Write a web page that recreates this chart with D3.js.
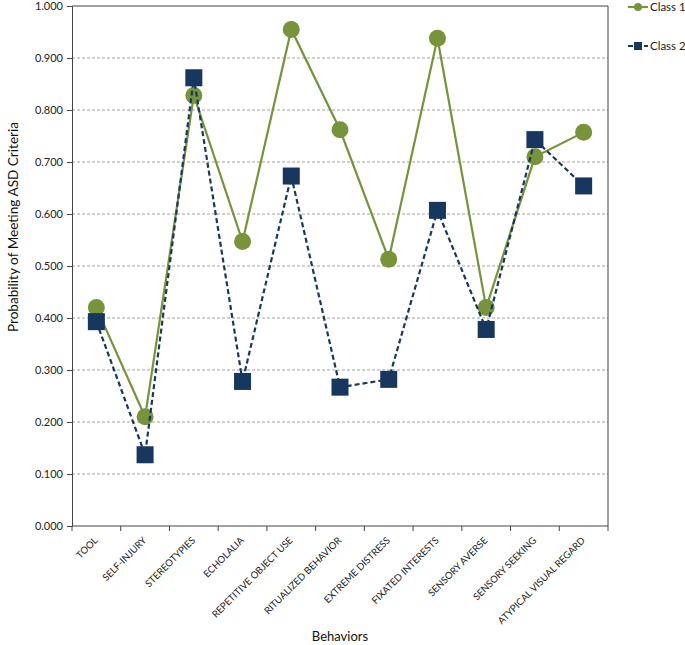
<!DOCTYPE html>
<html><head><meta charset="utf-8">
<script src="https://cdn.jsdelivr.net/npm/d3@7"></script>
<style>body{margin:0;background:#fff;} svg{display:block;font-family:Lato,"Open Sans",sans-serif;}</style>
</head><body>
<svg id="c" width="685" height="645"></svg>
<script>
const categories = ["TOOL","SELF-INJURY","STEREOTYPIES","ECHOLALIA","REPETITIVE OBJECT USE","RITUALIZED BEHAVIOR","EXTREME DISTRESS","FIXATED INTERESTS","SENSORY AVERSE","SENSORY SEEKING","ATYPICAL VISUAL REGARD"];
const class1 = [0.420,0.210,0.828,0.547,0.955,0.762,0.513,0.938,0.420,0.710,0.757];
const class2 = [0.393,0.137,0.862,0.278,0.673,0.267,0.282,0.607,0.378,0.743,0.654];
const yTicks = [0,0.1,0.2,0.3,0.4,0.5,0.6,0.7,0.8,0.9,1.0];
const seriesNames = ["Class 1","Class 2"];

const svg = d3.select("#c");
const L=72, R=608, T=6, B=526;
const x = d3.scaleBand().domain(categories).range([L,R]);
const y = d3.scaleLinear().domain([0,1]).range([B,T]);
const green="#77933C", navy="#17375E";

// gridlines
svg.append("g").selectAll("line").data(yTicks.filter(d=>d>0&&d<1)).join("line")
  .attr("x1",L).attr("x2",R).attr("y1",d=>y(d)).attr("y2",d=>y(d))
  .attr("stroke","#8c8c8c").attr("stroke-width",0.8).attr("stroke-dasharray","3,2");
// border top/right
svg.append("line").attr("x1",L).attr("x2",R).attr("y1",y(1)).attr("y2",y(1)).attr("stroke","#444").attr("stroke-width",1);
svg.append("line").attr("x1",R).attr("x2",R).attr("y1",y(1)).attr("y2",B).attr("stroke","#444").attr("stroke-width",1);

// y axis
const ya = svg.append("g").attr("transform",`translate(${L},0)`)
  .call(d3.axisLeft(y).tickValues(yTicks).tickFormat(d3.format(".3f")).tickSize(5).tickPadding(4));
ya.select(".domain").attr("stroke","#444");
ya.selectAll(".tick line").attr("stroke","#444");
ya.selectAll("text").attr("font-size",11).attr("fill","#222").attr("font-family","Lato,sans-serif");

// x axis: ticks at boundaries
const xa = svg.append("g").attr("transform",`translate(0,${B})`);
xa.append("line").attr("x1",L).attr("x2",R).attr("stroke","#444");
const bounds = categories.map(c=>x(c)).concat([R]);
xa.selectAll("line.tk").data(bounds).join("line").attr("class","tk")
  .attr("x1",d=>d).attr("x2",d=>d).attr("y1",0).attr("y2",5).attr("stroke","#444");
xa.selectAll("text").data(categories).join("text")
  .attr("transform",d=>`translate(${x(d)+x.bandwidth()/2+2},${15}) rotate(-45)`)
  .attr("text-anchor","end").attr("font-size",9.6).attr("fill","#222").text(d=>d);

// axis titles
svg.append("text").attr("transform",`translate(18,227) rotate(-90)`)
  .attr("text-anchor","middle").attr("font-size",13.6).attr("fill","#111").text("Probability of Meeting ASD Criteria");
svg.append("text").attr("x",340).attr("y",641).attr("text-anchor","middle")
  .attr("font-size",13).attr("fill","#111").text("Behaviors");

const cx = (d,i)=>x(categories[i])+x.bandwidth()/2;
// class 1
svg.append("path").datum(class1).attr("fill","none").attr("stroke",green).attr("stroke-width",2.2)
  .attr("d",d3.line().x(cx).y(d=>y(d)));
svg.append("g").selectAll("circle").data(class1).join("circle")
  .attr("cx",cx).attr("cy",d=>y(d)).attr("r",8.5).attr("fill",green);
// class 2
svg.append("path").datum(class2).attr("fill","none").attr("stroke",navy).attr("stroke-width",2.2)
  .attr("stroke-dasharray","5,3").attr("d",d3.line().x(cx).y(d=>y(d)));
const s=17;
svg.append("g").selectAll("rect").data(class2).join("rect")
  .attr("x",(d,i)=>cx(d,i)-s/2).attr("y",d=>y(d)-s/2).attr("width",s).attr("height",s).attr("fill",navy);

// legend
const lg = svg.append("g");
const ly=[7,46];
lg.append("line").attr("x1",628).attr("x2",648).attr("y1",ly[0]).attr("y2",ly[0]).attr("stroke",green).attr("stroke-width",2.2);
lg.append("circle").attr("cx",638).attr("cy",ly[0]).attr("r",4).attr("fill",green);
lg.append("line").attr("x1",628).attr("x2",648).attr("y1",ly[1]).attr("y2",ly[1]).attr("stroke",navy).attr("stroke-width",2.2).attr("stroke-dasharray","5,3");
lg.append("rect").attr("x",634).attr("y",ly[1]-4).attr("width",8).attr("height",8).attr("fill",navy);
lg.selectAll("text").data(seriesNames).join("text").attr("x",650).attr("y",(d,i)=>ly[i]+4)
  .attr("font-size",11.5).attr("fill","#222").text(d=>d);
</script>
</body></html>
